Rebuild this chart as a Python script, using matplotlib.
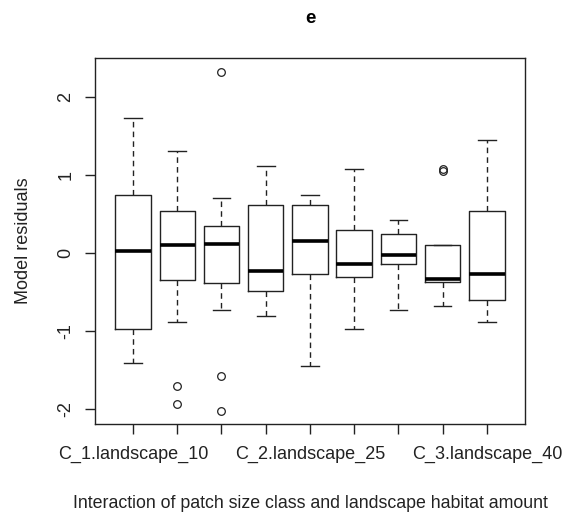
import matplotlib
matplotlib.use("Agg")
import matplotlib.pyplot as plt

plt.rcParams['font.family'] = ['Liberation Sans', 'DejaVu Sans']

# ===== data =====
groups = ["C_1.landscape_10", "C_2.landscape_10", "C_3.landscape_10",
          "C_1.landscape_25", "C_2.landscape_25", "C_3.landscape_25",
          "C_1.landscape_40", "C_2.landscape_40", "C_3.landscape_40"]
whisker_low = [-1.41, -0.88, -0.73, -0.80, -1.45, -0.97, -0.73, -0.68, -0.88]
q1 = [-0.97, -0.34, -0.38, -0.48, -0.27, -0.31, -0.14, -0.37, -0.60]
median = [0.03, 0.10, 0.12, -0.23, 0.15, -0.14, -0.02, -0.33, -0.27]
q3 = [0.74, 0.54, 0.35, 0.615, 0.62, 0.29, 0.25, 0.10, 0.54]
whisker_high = [1.73, 1.31, 0.70, 1.12, 0.74, 1.08, 0.42, 0.10, 1.45]
outliers = [[], [-1.70, -1.93], [2.32, -1.57, -2.02], [], [], [], [], [1.05, 1.08], []]
shown_labels = [0, 4, 8]

fig = plt.figure(figsize=(5.62, 5.13), dpi=100)
ax = fig.add_axes([0.169, 0.1735, 0.765, 0.7135])

stats = []
for i, g in enumerate(groups):
    stats.append({"label": g, "whislo": whisker_low[i], "q1": q1[i], "med": median[i],
                  "q3": q3[i], "whishi": whisker_high[i], "fliers": outliers[i]})

pos = list(range(1, len(groups) + 1))
ax.bxp(stats, positions=pos, widths=0.8, capwidths=0.4, showfliers=True, patch_artist=False,
       boxprops=dict(color="#222222", linewidth=1.0),
       medianprops=dict(color="black", linewidth=2.6, solid_capstyle="butt"),
       whiskerprops=dict(color="#222222", linewidth=1.0, linestyle=(0, (4, 3))),
       capprops=dict(color="#222222", linewidth=1.0),
       flierprops=dict(marker="o", markerfacecolor="none", markeredgecolor="#222222",
                       markersize=5.5, markeredgewidth=0.9))

ax.set_xlim(0.14, 9.86)
ax.set_ylim(-2.19, 2.5)
ax.set_yticks([-2, -1, 0, 1, 2])
ax.set_yticklabels(["-2", "-1", "0", "1", "2"], rotation=90, va="center")
ax.set_xticks(pos)
ax.set_xticklabels([g if i in shown_labels else "" for i, g in enumerate(groups)])

for s in ax.spines.values():
    s.set_linewidth(1.0)
    s.set_color("#222222")
ax.tick_params(axis="both", direction="out", length=7, width=1.0, color="#222222",
               labelsize=13, labelcolor="#222222")
ax.tick_params(axis="x", pad=9)
ax.tick_params(axis="y", pad=8)

ax.set_xlabel("Interaction of patch size class and landscape habitat amount",
              fontsize=12.8, color="#222222", labelpad=23)
ax.set_ylabel("Model residuals", fontsize=13, color="#222222", labelpad=18)
ax.set_title("e", fontsize=13.5, fontweight="bold", pad=25)

fig.savefig("out.png", dpi=100)
